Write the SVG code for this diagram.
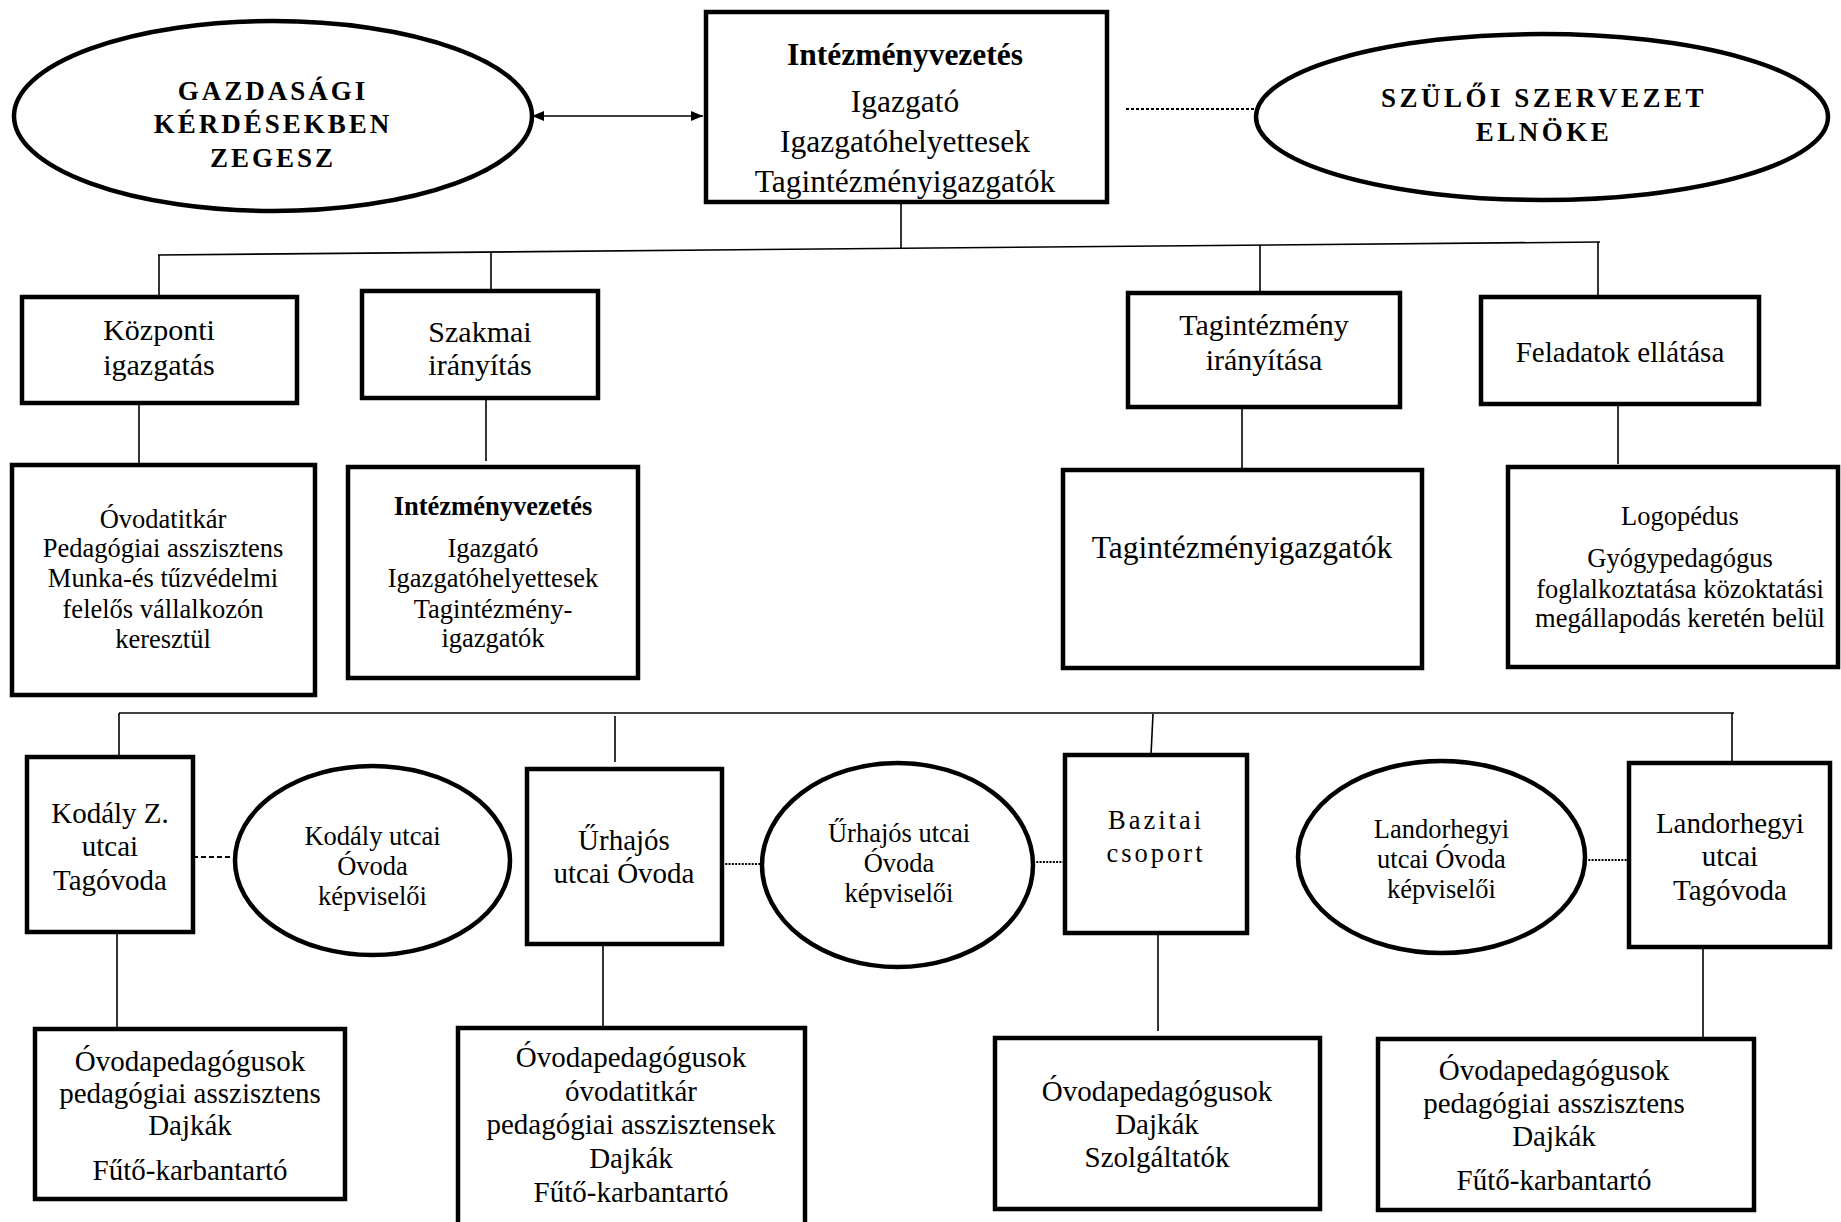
<svg xmlns="http://www.w3.org/2000/svg" width="1841" height="1222" viewBox="0 0 1841 1222">
<style>
text{font-family:"Liberation Serif","Times New Roman",serif;fill:#000;text-anchor:middle}
.box{fill:#fff;stroke:#000;stroke-width:4.5}
.ell{fill:#fff;stroke:#000;stroke-width:4.5}
.ln{fill:none;stroke:#000;stroke-width:1.6}
.dash{fill:none;stroke:#000;stroke-width:2;stroke-dasharray:5 3}
.dot{fill:none;stroke:#000;stroke-width:2;stroke-dasharray:2 1.3}
.b{font-weight:bold}
.cap{font-weight:bold;font-size:27px;letter-spacing:3.5px}
.f31{font-size:31.5px}
.f30{font-size:30px}
.f29{font-size:29px}
.f26{font-size:26.5px}
</style>
<defs>
<marker id="ah" viewBox="0 0 12 10" refX="12" refY="5" markerWidth="12" markerHeight="10" markerUnits="userSpaceOnUse" orient="auto-start-reverse">
<path d="M0,0 L12,5 L0,10 Z" fill="#000"/>
</marker>
</defs>
<rect width="1841" height="1222" fill="#fff"/>

<g id="connectors">
<line class="ln" x1="532" y1="116" x2="703" y2="116" marker-start="url(#ah)" marker-end="url(#ah)"/>
<line class="dot" x1="1126" y1="109" x2="1256" y2="109" style="stroke-dasharray:3 2"/>
<line class="ln" x1="901" y1="202" x2="901" y2="249"/>
<line class="ln" x1="158" y1="255" x2="1600" y2="242"/>
<line class="ln" x1="159" y1="255" x2="159" y2="297"/>
<line class="ln" x1="491" y1="252" x2="491" y2="291"/>
<line class="ln" x1="1260" y1="245" x2="1260" y2="300"/>
<line class="ln" x1="1598" y1="242" x2="1598" y2="297"/>
<line class="ln" x1="139" y1="403" x2="139" y2="465"/>
<line class="ln" x1="486" y1="398" x2="486" y2="461"/>
<line class="ln" x1="1242" y1="407" x2="1242" y2="470"/>
<line class="ln" x1="1618" y1="400" x2="1618" y2="464"/>
<line class="ln" x1="119" y1="713" x2="1734" y2="713"/>
<line class="ln" x1="119" y1="713" x2="119" y2="757"/>
<line class="ln" x1="615" y1="716" x2="615" y2="762"/>
<line class="ln" x1="1153" y1="714" x2="1151" y2="755"/>
<line class="ln" x1="1732" y1="713" x2="1732" y2="763"/>
<line class="ln" x1="117" y1="932" x2="117" y2="1036"/>
<line class="ln" x1="603" y1="944" x2="603" y2="1028"/>
<line class="ln" x1="1158" y1="933" x2="1158" y2="1031"/>
<line class="ln" x1="1703" y1="947" x2="1703" y2="1039"/>
<line class="dash" x1="193" y1="857" x2="235" y2="857"/>
<line class="dot" x1="722" y1="864" x2="762" y2="864"/>
<line class="dot" x1="1033" y1="862" x2="1065" y2="862"/>
<line class="dot" x1="1585" y1="860" x2="1629" y2="860"/>
</g>

<g id="gazdasagi">
<ellipse class="ell" cx="273" cy="116" rx="259" ry="95"/>
<text class="cap" x="273" y="100" style="letter-spacing:3px">GAZDASÁGI</text>
<text class="cap" x="273" y="133" style="letter-spacing:3px">KÉRDÉSEKBEN</text>
<text class="cap" x="273" y="167" style="letter-spacing:3px">ZEGESZ</text>
</g>

<g id="intezmenyvezetes">
<rect class="box" x="706" y="12" width="401" height="190"/>
<text class="f31 b" x="905" y="65">Intézményvezetés</text>
<text class="f31" x="905" y="112">Igazgató</text>
<text class="f31" x="905" y="152">Igazgatóhelyettesek</text>
<text class="f31" x="905" y="192">Tagintézményigazgatók</text>
</g>

<g id="szuloi">
<ellipse class="ell" cx="1542" cy="117" rx="286" ry="83"/>
<text class="cap" x="1544" y="107">SZÜLŐI SZERVEZET</text>
<text class="cap" x="1544" y="141">ELNÖKE</text>
</g>

<g id="kozponti">
<rect class="box" x="22" y="297" width="275" height="106"/>
<text class="f30" x="159" y="340">Központi</text>
<text class="f30" x="159" y="375">igazgatás</text>
</g>

<g id="szakmai">
<rect class="box" x="362" y="291" width="236" height="107"/>
<text class="f30" x="480" y="342">Szakmai</text>
<text class="f30" x="480" y="375">irányítás</text>
</g>

<g id="tagint-iranyitasa">
<rect class="box" x="1128" y="293" width="272" height="114"/>
<text class="f30" x="1264" y="335">Tagintézmény</text>
<text class="f30" x="1264" y="370">irányítása</text>
</g>

<g id="feladatok">
<rect class="box" x="1481" y="297" width="278" height="107"/>
<text class="f29" x="1620" y="362">Feladatok ellátása</text>
</g>

<g id="kozponti-munkatarsak">
<rect class="box" x="12" y="465" width="303" height="230"/>
<text class="f26" x="163" y="528">Óvodatitkár</text>
<text class="f26" x="163" y="557">Pedagógiai asszisztens</text>
<text class="f26" x="163" y="587">Munka-és tűzvédelmi</text>
<text class="f26" x="163" y="618">felelős vállalkozón</text>
<text class="f26" x="163" y="648">keresztül</text>
</g>

<g id="szakmai-vezetes">
<rect class="box" x="348" y="467" width="290" height="211"/>
<text class="f26 b" x="493" y="515">Intézményvezetés</text>
<text class="f26" x="493" y="557">Igazgató</text>
<text class="f26" x="493" y="587">Igazgatóhelyettesek</text>
<text class="f26" x="493" y="618">Tagintézmény-</text>
<text class="f26" x="493" y="647">igazgatók</text>
</g>

<g id="tagintezmenyigazgatok">
<rect class="box" x="1063" y="470" width="359" height="198"/>
<text class="f31" x="1242" y="558">Tagintézményigazgatók</text>
</g>

<g id="logopedus">
<rect class="box" x="1508" y="467" width="330" height="200"/>
<text class="f26" x="1680" y="525">Logopédus</text>
<text class="f26" x="1680" y="567">Gyógypedagógus</text>
<text class="f26" x="1680" y="598">foglalkoztatása közoktatási</text>
<text class="f26" x="1680" y="627">megállapodás keretén belül</text>
</g>

<g id="kodaly">
<rect class="box" x="27" y="757" width="166" height="175"/>
<text class="f29" x="110" y="823">Kodály Z.</text>
<text class="f29" x="110" y="856">utcai</text>
<text class="f29" x="110" y="890">Tagóvoda</text>
</g>

<g id="kodaly-kepviselok">
<ellipse class="ell" cx="372.5" cy="860.5" rx="137.5" ry="94.5"/>
<text class="f26" x="372.5" y="845">Kodály utcai</text>
<text class="f26" x="372.5" y="875">Óvoda</text>
<text class="f26" x="372.5" y="905">képviselői</text>
</g>

<g id="urhajos">
<rect class="box" x="527" y="769" width="195" height="175"/>
<text class="f29" x="624" y="850">Űrhajós</text>
<text class="f29" x="624" y="883">utcai Óvoda</text>
</g>

<g id="urhajos-kepviselok">
<ellipse class="ell" cx="897.5" cy="865" rx="135.5" ry="102"/>
<text class="f26" x="899" y="842">Űrhajós utcai</text>
<text class="f26" x="899" y="872">Óvoda</text>
<text class="f26" x="899" y="902">képviselői</text>
</g>

<g id="bazitai">
<rect class="box" x="1065" y="755" width="182" height="178"/>
<text class="f26" x="1156" y="829" style="letter-spacing:3px">Bazitai</text>
<text class="f26" x="1156" y="862" style="letter-spacing:3px">csoport</text>
</g>

<g id="landorhegyi-kepviselok">
<ellipse class="ell" cx="1441.5" cy="857" rx="143.5" ry="96"/>
<text class="f26" x="1441.5" y="838">Landorhegyi</text>
<text class="f26" x="1441.5" y="868">utcai Óvoda</text>
<text class="f26" x="1441.5" y="898">képviselői</text>
</g>

<g id="landorhegyi">
<rect class="box" x="1629" y="763" width="201" height="184"/>
<text class="f29" x="1730" y="833">Landorhegyi</text>
<text class="f29" x="1730" y="866">utcai</text>
<text class="f29" x="1730" y="900">Tagóvoda</text>
</g>

<g id="kodaly-dolgozok">
<rect class="box" x="35" y="1029" width="310" height="170"/>
<text class="f29" x="190" y="1071">Óvodapedagógusok</text>
<text class="f29" x="190" y="1103">pedagógiai asszisztens</text>
<text class="f29" x="190" y="1135">Dajkák</text>
<text class="f29" x="190" y="1180">Fűtő-karbantartó</text>
</g>

<g id="urhajos-dolgozok">
<rect class="box" x="458" y="1028" width="347" height="210"/>
<text class="f29" x="631" y="1067">Óvodapedagógusok</text>
<text class="f29" x="631" y="1101">óvodatitkár</text>
<text class="f29" x="631" y="1134">pedagógiai asszisztensek</text>
<text class="f29" x="631" y="1168">Dajkák</text>
<text class="f29" x="631" y="1202">Fűtő-karbantartó</text>
</g>

<g id="bazitai-dolgozok">
<rect class="box" x="995" y="1038" width="325" height="171"/>
<text class="f29" x="1157" y="1101">Óvodapedagógusok</text>
<text class="f29" x="1157" y="1134">Dajkák</text>
<text class="f29" x="1157" y="1167">Szolgáltatók</text>
</g>

<g id="landorhegyi-dolgozok">
<rect class="box" x="1378" y="1039" width="376" height="171"/>
<text class="f29" x="1554" y="1080">Óvodapedagógusok</text>
<text class="f29" x="1554" y="1113">pedagógiai asszisztens</text>
<text class="f29" x="1554" y="1146">Dajkák</text>
<text class="f29" x="1554" y="1190">Fűtő-karbantartó</text>
</g>
</svg>
